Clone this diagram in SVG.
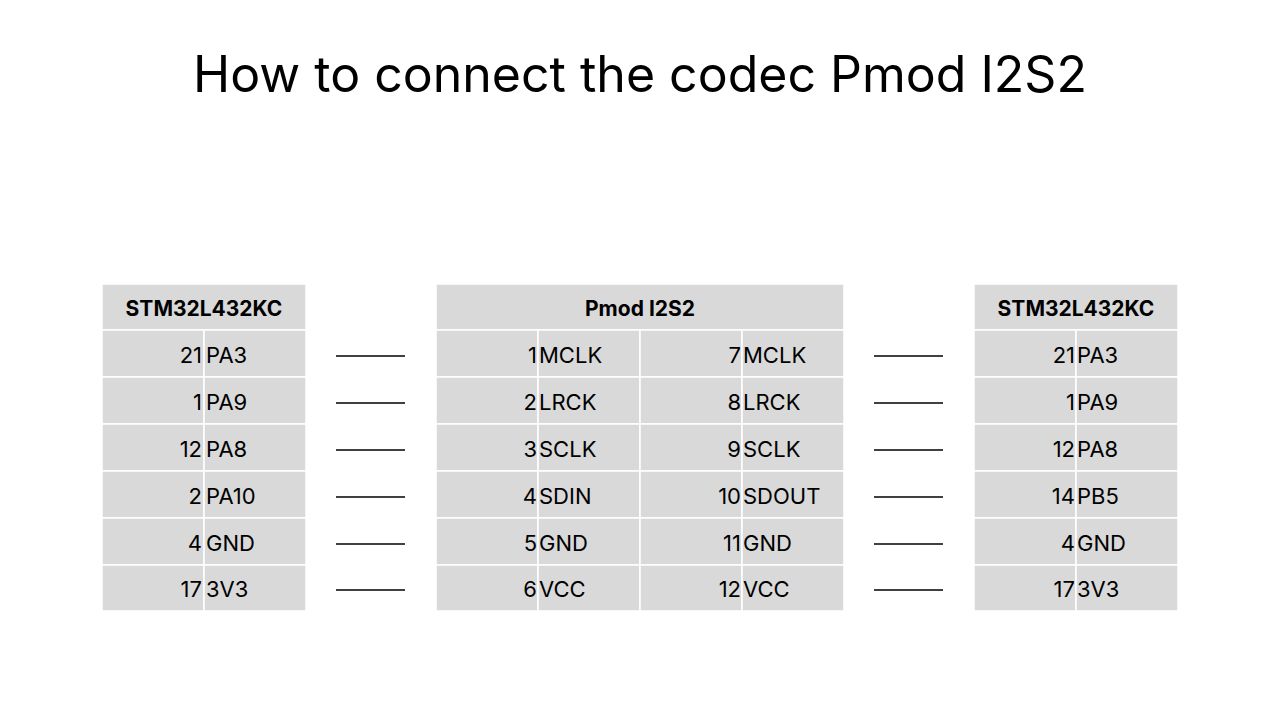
<svg xmlns="http://www.w3.org/2000/svg" width="1280" height="720" viewBox="0 0 1280 720">
<style>
.cell{fill:#d9d9d9;stroke:#ffffff;stroke-width:1.5}
.hd{font-family:Inter,"Liberation Sans",sans-serif;font-weight:bold;font-size:21px;fill:#000;text-anchor:middle}
.n{font-family:Inter,"Liberation Sans",sans-serif;font-size:22px;fill:#000;text-anchor:end}
.l{font-family:Inter,"Liberation Sans",sans-serif;font-size:22px;fill:#000}
.c{stroke:#000;stroke-width:1.5}
</style>
<rect width="1280" height="720" fill="#fff"/>
<text x="640" y="92" font-family="Inter,'Liberation Sans',sans-serif" font-size="50" text-anchor="middle" fill="#000">How to connect the codec Pmod I2S2</text>

<g id="left-table">
<rect class="cell" x="102" y="284" width="204" height="46"/>
<text class="hd" x="204" y="316">STM32L432KC</text>
<rect class="cell" x="102" y="330" width="102" height="47"/><rect class="cell" x="204" y="330" width="102" height="47"/>
<rect class="cell" x="102" y="377" width="102" height="47"/><rect class="cell" x="204" y="377" width="102" height="47"/>
<rect class="cell" x="102" y="424" width="102" height="47"/><rect class="cell" x="204" y="424" width="102" height="47"/>
<rect class="cell" x="102" y="471" width="102" height="47"/><rect class="cell" x="204" y="471" width="102" height="47"/>
<rect class="cell" x="102" y="518" width="102" height="47"/><rect class="cell" x="204" y="518" width="102" height="47"/>
<rect class="cell" x="102" y="565" width="102" height="46"/><rect class="cell" x="204" y="565" width="102" height="46"/>
<text class="n" x="202" y="363">21</text><text class="l" x="206" y="363">PA3</text>
<text class="n" x="202" y="410">1</text><text class="l" x="206" y="410">PA9</text>
<text class="n" x="202" y="457">12</text><text class="l" x="206" y="457">PA8</text>
<text class="n" x="202" y="504">2</text><text class="l" x="206" y="504">PA10</text>
<text class="n" x="202" y="551">4</text><text class="l" x="206" y="551">GND</text>
<text class="n" x="202" y="597">17</text><text class="l" x="206" y="597">3V3</text>
</g>

<g id="pmod-table">
<rect class="cell" x="436" y="284" width="408" height="46"/>
<text class="hd" x="640" y="316">Pmod I2S2</text>
<g>
<rect class="cell" x="436" y="330" width="102" height="47"/><rect class="cell" x="538" y="330" width="102" height="47"/><rect class="cell" x="640" y="330" width="102" height="47"/><rect class="cell" x="742" y="330" width="102" height="47"/>
<rect class="cell" x="436" y="377" width="102" height="47"/><rect class="cell" x="538" y="377" width="102" height="47"/><rect class="cell" x="640" y="377" width="102" height="47"/><rect class="cell" x="742" y="377" width="102" height="47"/>
<rect class="cell" x="436" y="424" width="102" height="47"/><rect class="cell" x="538" y="424" width="102" height="47"/><rect class="cell" x="640" y="424" width="102" height="47"/><rect class="cell" x="742" y="424" width="102" height="47"/>
<rect class="cell" x="436" y="471" width="102" height="47"/><rect class="cell" x="538" y="471" width="102" height="47"/><rect class="cell" x="640" y="471" width="102" height="47"/><rect class="cell" x="742" y="471" width="102" height="47"/>
<rect class="cell" x="436" y="518" width="102" height="47"/><rect class="cell" x="538" y="518" width="102" height="47"/><rect class="cell" x="640" y="518" width="102" height="47"/><rect class="cell" x="742" y="518" width="102" height="47"/>
<rect class="cell" x="436" y="565" width="102" height="46"/><rect class="cell" x="538" y="565" width="102" height="46"/><rect class="cell" x="640" y="565" width="102" height="46"/><rect class="cell" x="742" y="565" width="102" height="46"/>
</g>
<text class="n" x="537" y="363">1</text><text class="l" x="539" y="363">MCLK</text><text class="n" x="741" y="363">7</text><text class="l" x="743" y="363">MCLK</text>
<text class="n" x="537" y="410">2</text><text class="l" x="539" y="410">LRCK</text><text class="n" x="741" y="410">8</text><text class="l" x="743" y="410">LRCK</text>
<text class="n" x="537" y="457">3</text><text class="l" x="539" y="457">SCLK</text><text class="n" x="741" y="457">9</text><text class="l" x="743" y="457">SCLK</text>
<text class="n" x="537" y="504">4</text><text class="l" x="539" y="504">SDIN</text><text class="n" x="741" y="504">10</text><text class="l" x="743" y="504">SDOUT</text>
<text class="n" x="537" y="551">5</text><text class="l" x="539" y="551">GND</text><text class="n" x="741" y="551">11</text><text class="l" x="743" y="551">GND</text>
<text class="n" x="537" y="597">6</text><text class="l" x="539" y="597">VCC</text><text class="n" x="741" y="597">12</text><text class="l" x="743" y="597">VCC</text>
</g>

<g id="right-table">
<rect class="cell" x="974" y="284" width="204" height="46"/>
<text class="hd" x="1076" y="316">STM32L432KC</text>
<rect class="cell" x="974" y="330" width="102" height="47"/><rect class="cell" x="1076" y="330" width="102" height="47"/>
<rect class="cell" x="974" y="377" width="102" height="47"/><rect class="cell" x="1076" y="377" width="102" height="47"/>
<rect class="cell" x="974" y="424" width="102" height="47"/><rect class="cell" x="1076" y="424" width="102" height="47"/>
<rect class="cell" x="974" y="471" width="102" height="47"/><rect class="cell" x="1076" y="471" width="102" height="47"/>
<rect class="cell" x="974" y="518" width="102" height="47"/><rect class="cell" x="1076" y="518" width="102" height="47"/>
<rect class="cell" x="974" y="565" width="102" height="46"/><rect class="cell" x="1076" y="565" width="102" height="46"/>
<text class="n" x="1075" y="363">21</text><text class="l" x="1077" y="363">PA3</text>
<text class="n" x="1075" y="410">1</text><text class="l" x="1077" y="410">PA9</text>
<text class="n" x="1075" y="457">12</text><text class="l" x="1077" y="457">PA8</text>
<text class="n" x="1075" y="504">14</text><text class="l" x="1077" y="504">PB5</text>
<text class="n" x="1075" y="551">4</text><text class="l" x="1077" y="551">GND</text>
<text class="n" x="1075" y="597">17</text><text class="l" x="1077" y="597">3V3</text>
</g>

<g id="connectors">
<line class="c" x1="336" y1="356" x2="405" y2="356"/>
<line class="c" x1="336" y1="403" x2="405" y2="403"/>
<line class="c" x1="336" y1="450" x2="405" y2="450"/>
<line class="c" x1="336" y1="497" x2="405" y2="497"/>
<line class="c" x1="336" y1="544" x2="405" y2="544"/>
<line class="c" x1="336" y1="590" x2="405" y2="590"/>
<line class="c" x1="874" y1="356" x2="943" y2="356"/>
<line class="c" x1="874" y1="403" x2="943" y2="403"/>
<line class="c" x1="874" y1="450" x2="943" y2="450"/>
<line class="c" x1="874" y1="497" x2="943" y2="497"/>
<line class="c" x1="874" y1="544" x2="943" y2="544"/>
<line class="c" x1="874" y1="590" x2="943" y2="590"/>
</g>
</svg>
